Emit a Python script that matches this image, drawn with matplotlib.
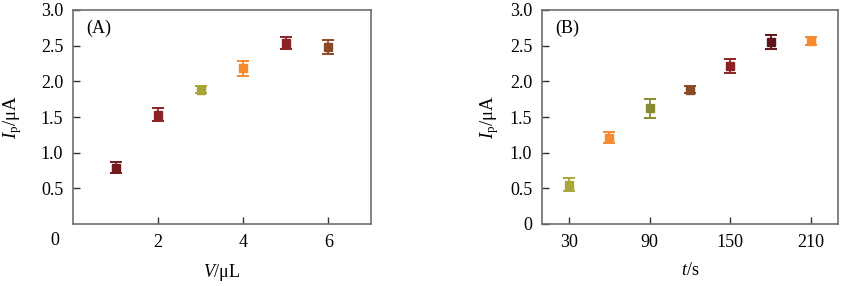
import matplotlib.pyplot as plt

plt.rcParams['font.family'] = ['Liberation Serif', 'DejaVu Serif']
plt.rcParams['mathtext.fontset'] = 'custom'
plt.rcParams['mathtext.rm'] = 'Liberation Serif'
plt.rcParams['mathtext.it'] = 'Liberation Serif:italic'

# panel A: volume
vol = [1, 2, 3, 4, 5, 6]
ip_vol = [0.79, 1.535, 1.885, 2.18, 2.535, 2.48]
err_vol = [0.08, 0.09, 0.05, 0.11, 0.08, 0.1]
col_vol = ['#721a1c', '#8a2226', '#a8a534', '#f7892e', '#8a2226', '#8b4a26']

# panel B: time
t = [30, 60, 90, 120, 150, 180, 210]
ip_t = [0.55, 1.21, 1.62, 1.885, 2.22, 2.55, 2.565]
err_t = [0.09, 0.08, 0.13, 0.05, 0.1, 0.1, 0.05]
col_t = ['#aaa63a', '#f7892e', '#8a8a30', '#8b4a26', '#8a2226', '#5e1418', '#f7892e']

fig = plt.figure(figsize=(8.47, 2.86), dpi=100)
axA = fig.add_axes([73/847, 62/286, 298/847, 214/286])
axB = fig.add_axes([542/847, 62/286, 296/847, 214/286])

def draw(ax, xs, ys, es, cs):
    for x, y, e, c in zip(xs, ys, es, cs):
        ax.errorbar(x, y, yerr=e, fmt='s', color=c, ms=5.5, capsize=4,
                    elinewidth=1.3, capthick=1.4)
    ax.set_ylim(0, 3.0)
    for s in ax.spines.values():
        s.set_color('#6e6e6e')
        s.set_linewidth(1.2)
    ax.tick_params(direction='in', length=5, width=1, color='#333333',
                   labelsize=13, pad=7)

draw(axA, vol, ip_vol, err_vol, col_vol)
axA.set_xlim(0, 7)
axA.set_xticks([2, 4, 6])
axA.set_yticks([0.5, 1.0, 1.5, 2.0, 2.5, 3.0])
axA.set_yticklabels(['0.5', '1.0', '1.5', '2.0', '2.5', '3.0'])
axA.text(-0.045, -0.075, '0', transform=axA.transAxes, fontsize=13,
         ha='right', va='center')
axA.set_xlabel(r'$\mathit{V}$/μL', fontsize=13, labelpad=8)
axA.set_ylabel(r'$\mathit{I}_\mathrm{p}$/μA', fontsize=13.5, labelpad=12)
axA.text(0.045, 0.955, '(A)', transform=axA.transAxes, fontsize=13, va='top')

draw(axB, t, ip_t, err_t, col_t)
axB.set_xlim(10, 230)
axB.set_xticks([30, 90, 150, 210])
axB.set_yticks([0, 0.5, 1.0, 1.5, 2.0, 2.5, 3.0])
axB.set_yticklabels(['0', '0.5', '1.0', '1.5', '2.0', '2.5', '3.0'])
axB.set_xlabel(r'$\mathit{t}$/s', fontsize=13, labelpad=8)
axB.set_ylabel(r'$\mathit{I}_\mathrm{p}$/μA', fontsize=13.5, labelpad=6)
axB.text(0.045, 0.955, '(B)', transform=axB.transAxes, fontsize=13, va='top')

fig.savefig('out.png', dpi=100)
